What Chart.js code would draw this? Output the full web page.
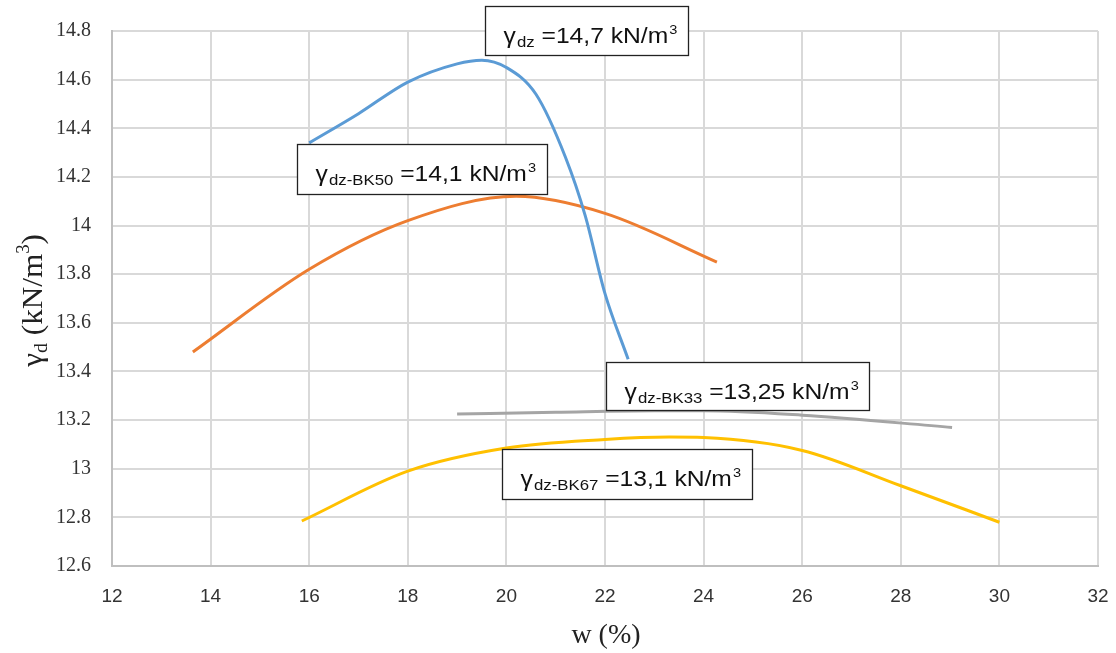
<!DOCTYPE html>
<html>
<head>
<meta charset="utf-8">
<script src="https://cdn.jsdelivr.net/npm/chart.js@4"></script>
<style>
  html, body { margin: 0; padding: 0; background: #fff; }
  #wrap { width: 1116px; height: 653px; }
</style>
</head>
<body>
<div id="wrap"><canvas id="myChartId"></canvas></div>
<script>
// moisture w (%) and dry unit weight (kN/m3)
const wNatural = [16.0, 17.0, 18.0, 19.0, 19.5, 20.0, 20.6, 21.2, 21.6, 22.0, 22.47];
const gNatural = [14.34, 14.46, 14.59, 14.665, 14.68, 14.65, 14.54, 14.28, 14.04, 13.72, 13.45];

const wBK50 = [13.64, 16.0, 18.0, 20.2, 22.0, 24.27];
const gBK50 = [13.48, 13.82, 14.02, 14.12, 14.05, 13.85];

const wBK33 = [19.0, 21.0, 23.0, 24.0, 26.0, 29.04];
const gBK33 = [13.225, 13.232, 13.238, 13.238, 13.22, 13.17];

const wBK67 = [15.85, 18.0, 20.0, 22.0, 23.3, 24.0, 26.0, 28.0, 30.0];
const gBK67 = [12.785, 12.99, 13.085, 13.12, 13.13, 13.128, 13.075, 12.93, 12.78];

const xTicks = [12, 14, 16, 18, 20, 22, 24, 26, 28, 30, 32];
const yTicks = [12.6, 12.8, 13, 13.2, 13.4, 13.6, 13.8, 14, 14.2, 14.4, 14.6, 14.8];

// text boxes: [subscript, value]
const boxTexts = [
    ['dz', ' =14,7 kN/m'],
    ['dz-BK50', ' =14,1 kN/m'],
    ['dz-BK33', ' =13,25 kN/m'],
    ['dz-BK67', ' =13,1 kN/m']
];

function pts(xs, ys) {
    return xs.map(function (x, i) { return { x: x, y: ys[i] }; });
}

// boxes placed in axis units (left, top, right, bottom)
const boxPlaces = [
    [19.57, 14.903, 23.68, 14.70],
    [15.75, 14.335, 20.82, 14.13],
    [22.02, 13.439, 27.36, 13.242],
    [19.91, 13.081, 24.98, 12.876]
];

const labelBoxes = {
    id: 'labelBoxes',
    afterDatasetsDraw: function (chart) {
        const c = chart.ctx;
        const xs = chart.scales.x, ys = chart.scales.y;
        c.save();
        boxPlaces.forEach(function (b, i) {
            const l = Math.round(xs.getPixelForValue(b[0])) + 0.5;
            const t = Math.round(ys.getPixelForValue(b[1])) + 0.5;
            const r = Math.round(xs.getPixelForValue(b[2])) + 0.5;
            const bt = Math.round(ys.getPixelForValue(b[3])) + 0.5;
            c.fillStyle = '#fff';
            c.fillRect(l, t, r - l, bt - t);
            c.strokeStyle = '#222';
            c.lineWidth = 1.3;
            c.strokeRect(l, t, r - l, bt - t);

            // text is a bit wide in the source, stretch it
            c.save();
            c.translate(l + 18, t + 36);
            c.scale(1.12, 1);
            let x = 0;
            c.fillStyle = '#111';
            c.textBaseline = 'alphabetic';
            c.font = '22px "Liberation Sans"';
            c.fillText('\u03b3', x, 0);
            x += c.measureText('\u03b3').width + 1;
            c.font = '15px "Liberation Sans"';
            c.fillText(boxTexts[i][0], x, 4);
            x += c.measureText(boxTexts[i][0]).width;
            c.font = '22px "Liberation Sans"';
            c.fillText(boxTexts[i][1], x, 0);
            x += c.measureText(boxTexts[i][1]).width + 1;
            c.font = '13px "Liberation Sans"';
            c.fillText('3', x, -9);
            c.restore();
        });

        // axis titles
        c.fillStyle = '#222';
        c.font = '28px "Liberation Serif"';
        c.textAlign = 'center';
        c.fillText('w (%)', 606, 643);

        c.translate(42, 297);
        c.rotate(-Math.PI / 2);
        c.scale(1.04, 1);
        c.textAlign = 'left';
        let tx = -67;
        c.font = '30px "Liberation Serif"';
        c.fillText('\u03b3', tx, 0);
        tx += c.measureText('\u03b3').width;
        c.font = '19px "Liberation Serif"';
        c.fillText('d', tx, 5);
        tx += c.measureText('d').width;
        c.font = '30px "Liberation Serif"';
        c.fillText(' (kN/m', tx, 0);
        tx += c.measureText(' (kN/m').width;
        c.font = '18px "Liberation Serif"';
        c.fillText('3', tx, -13);
        tx += c.measureText('3').width;
        c.font = '30px "Liberation Serif"';
        c.fillText(')', tx, 0);
        c.restore();
    }
};

function renderChart() {
    const ctx = document.getElementById('myChartId');

    const lineStyle = { showLine: true, pointRadius: 0, borderWidth: 3, cubicInterpolationMode: 'monotone', fill: false };

    new Chart(ctx, {
        type: 'scatter',
        data: {
            datasets: [
                Object.assign({ label: 'natural', data: pts(wNatural, gNatural), borderColor: '#5B9BD5' }, lineStyle),
                Object.assign({ label: 'BK50', data: pts(wBK50, gBK50), borderColor: '#ED7D31' }, lineStyle),
                Object.assign({ label: 'BK33', data: pts(wBK33, gBK33), borderColor: '#A5A5A5' }, lineStyle),
                Object.assign({ label: 'BK67', data: pts(wBK67, gBK67), borderColor: '#FFC000' }, lineStyle)
            ]
        },
        options: {
            responsive: false,
            animation: false,
            layout: { padding: { top: 31, right: 18, left: 0, bottom: 0 } },
            scales: {
                x: {
                    type: 'linear',
                    min: 12,
                    max: 32,
                    afterBuildTicks: function (s) { s.ticks = xTicks.map(function (v) { return { value: v }; }); },
                    afterFit: function (s) { s.height = 87; s.paddingRight = 0; s.paddingLeft = 0; },
                    grid: { color: '#d9d9d9', lineWidth: 2, drawTicks: false },
                    border: { color: '#bfbfbf', width: 2 },
                    ticks: {
                        padding: 19,
                        color: '#333',
                        font: { family: 'Liberation Sans', size: 19 }
                    }
                },
                y: {
                    type: 'linear',
                    min: 12.6,
                    max: 14.8,
                    afterBuildTicks: function (s) { s.ticks = yTicks.map(function (v) { return { value: v }; }); },
                    afterFit: function (s) { s.width = 112; s.paddingTop = 0; s.paddingBottom = 0; },
                    grid: { color: '#d9d9d9', lineWidth: 2, drawTicks: false },
                    border: { color: '#bfbfbf', width: 2 },
                    ticks: {
                        padding: 21,
                        color: '#333',
                        font: { family: 'Liberation Serif', size: 20 },
                        callback: function (v) { return String(Math.round(v * 10) / 10); }
                    }
                }
            },
            plugins: {
                legend: { display: false },
                tooltip: { enabled: false }
            }
        },
        plugins: [labelBoxes]
    });
}

const cv = document.getElementById('myChartId');
cv.width = 1116;
cv.height = 653;
renderChart();
</script>
</body>
</html>
